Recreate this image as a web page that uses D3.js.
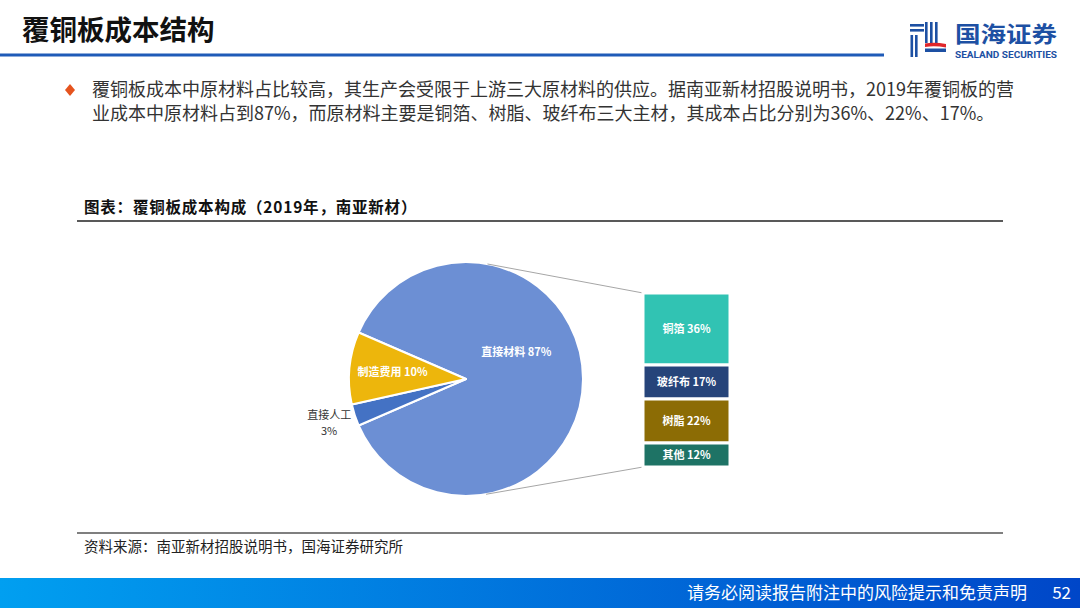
<!DOCTYPE html>
<html>
<head>
<meta charset="utf-8">
<script src="https://cdn.jsdelivr.net/npm/d3@7"></script>
<style>
  body { margin: 0; background: #fff; }
  svg { display: block; font-family: "Noto Sans CJK SC", "Noto Sans", sans-serif; }
</style>
</head>
<body>
<div class="canvas"></div>
<script>
// pie: cost split of CCL (2019)
const pieCats = ['直接材料', '直接人工', '制造费用'];
const pieVals = [87, 3, 10];
const pieColors = ['#6C8FD4', '#4472C4', '#EDB60C'];

// bar-of-pie: breakdown of 直接材料
const barCats = ['铜箔', '玻纤布', '树脂', '其他'];
const barVals = [36, 17, 22, 12];
const barColors = ['#31C3B3', '#26447A', '#8C6C05', '#1E7365'];

const dims = { width: 1080, height: 608 };
const cent = { x: 466, y: 379 };
const radius = 117;
const box = { x: 643, w: 87, top: 293, bottom: 467 };

const svg = d3.select('.canvas')
  .append('svg')
  .attr('width', dims.width)
  .attr('height', dims.height);

// ---- header ----
svg.append('text')
  .attr('x', 22).attr('y', 40)
  .attr('font-size', 27.5).attr('font-weight', 'bold').attr('fill', '#111')
  .text('覆铜板成本结构');

svg.append('rect')
  .attr('x', 0).attr('y', 53.5).attr('width', 884).attr('height', 3)
  .attr('fill', '#1F5BB8');

// logo
const logo = svg.append('g').attr('transform', 'translate(910, 20)');
const blue = '#1D50A3';
[[0, 4, 14, 2.6], [0, 9, 14, 2.6], [0.5, 15, 2.6, 22], [5, 15, 2.6, 22],
 [15, 2, 2.6, 21], [20, 2, 2.6, 21], [25, 2, 2.6, 21], [15, 28.5, 21, 3.5]]
  .forEach(r => logo.append('rect')
    .attr('x', r[0]).attr('y', r[1]).attr('width', r[2]).attr('height', r[3])
    .attr('fill', blue));
logo.append('path')
  .attr('d', 'M15,23.5 Q25,22 36,24 L36,27.5 Q25,25.5 15,27 Z')
  .attr('fill', '#E0262A');
logo.append('text')
  .attr('x', 45).attr('y', 22)
  .attr('font-size', 22).attr('font-weight', 'bold').attr('fill', blue)
  .attr('textLength', 102).attr('lengthAdjust', 'spacingAndGlyphs')
  .text('国海证券');
logo.append('text')
  .attr('x', 45).attr('y', 37.5)
  .attr('font-size', 9).attr('font-weight', 'bold').attr('fill', blue)
  .attr('font-family', 'Roboto, sans-serif')
  .attr('textLength', 102).attr('lengthAdjust', 'spacingAndGlyphs')
  .text('SEALAND SECURITIES');

// bullet paragraph
svg.append('path')
  .attr('d', 'M70,84 L75,90 L70,96 L65,90 Z')
  .attr('fill', '#E5531E');

const para = [
  '覆铜板成本中原材料占比较高，其生产会受限于上游三大原材料的供应。据南亚新材招股说明书，2019年覆铜板的营',
  '业成本中原材料占到87%，而原材料主要是铜箔、树脂、玻纤布三大主材，其成本占比分别为36%、22%、17%。'
];
svg.append('g').selectAll('text')
  .data(para)
  .enter().append('text')
    .attr('x', 92)
    .attr('y', (d, i) => 96 + i * 24)
    .attr('font-size', 18).attr('fill', '#333')
    .text(d => d);

// chart frame
svg.append('text')
  .attr('x', 84).attr('y', 213)
  .attr('font-size', 15.5).attr('font-weight', 'bold').attr('fill', '#111')
  .attr('letter-spacing', 0.8)
  .text('图表：覆铜板成本构成（2019年，南亚新材）');
svg.append('line')
  .attr('x1', 77).attr('x2', 1003).attr('y1', 221).attr('y2', 221)
  .attr('stroke', '#222').attr('stroke-width', 1.5);
svg.append('line')
  .attr('x1', 77).attr('x2', 1003).attr('y1', 533).attr('y2', 533)
  .attr('stroke', '#555').attr('stroke-width', 1.5);
svg.append('text')
  .attr('x', 84).attr('y', 552)
  .attr('font-size', 14.5).attr('fill', '#222')
  .text('资料来源：南亚新材招股说明书，国海证券研究所');

// ---- pie ----
const smallShare = (d3.sum(pieVals) - pieVals[0]) / d3.sum(pieVals);
const startAngle = -Math.PI / 2 + smallShare * Math.PI;

const pie = d3.pie()
  .sort(null)
  .startAngle(startAngle)
  .endAngle(startAngle + 2 * Math.PI)
  .value(d => d);

const arcPath = d3.arc()
  .outerRadius(radius)
  .innerRadius(0);

const graph = svg.append('g')
  .attr('transform', `translate(${cent.x}, ${cent.y})`);

const arcs = pie(pieVals);

// connector lines (tangent from box corners to the pie)
const tangent = (px, py, side) => {
  const dx = px - cent.x, dy = py - cent.y;
  const d = Math.hypot(dx, dy);
  const th = Math.atan2(dy, dx) + side * Math.acos(radius / d);
  return [cent.x + radius * Math.cos(th), cent.y + radius * Math.sin(th)];
};
const t1 = tangent(box.x, box.top, -1);
const t2 = tangent(box.x, box.bottom, 1);
svg.append('line')
  .attr('x1', t1[0]).attr('y1', t1[1]).attr('x2', box.x).attr('y2', box.top)
  .attr('stroke', '#A6A6A6').attr('stroke-width', 1);
svg.append('line')
  .attr('x1', t2[0]).attr('y1', t2[1]).attr('x2', box.x).attr('y2', box.bottom)
  .attr('stroke', '#A6A6A6').attr('stroke-width', 1);

graph.selectAll('path')
  .data(arcs)
  .enter().append('path')
    .attr('d', arcPath)
    .attr('fill', (d, i) => pieColors[i])
    .attr('stroke', '#fff')
    .attr('stroke-width', 2)
    .attr('stroke-linejoin', 'round');

// pie labels
const mid = d => (d.startAngle + d.endAngle) / 2;
const labelSpots = [
  d => d3.pointRadial(mid(d) - 0.5, radius * 0.49),
  d => d3.pointRadial(mid(d), radius * 1.23),
  d => d3.pointRadial(mid(d), radius * 0.63)
];

arcs.forEach((d, i) => {
  const [lx, ly] = labelSpots[i](d);
  const t = graph.append('text')
    .attr('text-anchor', 'middle')
    .attr('font-size', 11)
    .attr('font-weight', i === 1 ? 'normal' : 'bold')
    .attr('fill', i === 1 ? '#333' : '#fff');
  if (i === 1) {
    t.append('tspan').attr('x', lx).attr('y', ly - 4).text(pieCats[i]);
    t.append('tspan').attr('x', lx).attr('y', ly + 12).text(`${pieVals[i]}%`);
  } else {
    t.attr('x', lx).attr('y', ly + 4).text(`${pieCats[i]} ${pieVals[i]}%`);
  }
});

// ---- stacked box ----
const y = d3.scaleLinear()
  .domain([0, d3.sum(barVals)])
  .range([box.top, box.bottom]);

const cum = d3.cumsum([0, ...barVals]);
const bars = svg.append('g').selectAll('g')
  .data(barVals)
  .enter().append('g');

bars.append('rect')
  .attr('x', box.x)
  .attr('y', (d, i) => y(cum[i]))
  .attr('width', box.w)
  .attr('height', d => y(d) - y(0))
  .attr('fill', (d, i) => barColors[i])
  .attr('stroke', '#fff')
  .attr('stroke-width', 3);

bars.append('text')
  .attr('x', box.x + box.w / 2)
  .attr('y', (d, i) => (y(cum[i]) + y(cum[i + 1])) / 2 + 4)
  .attr('text-anchor', 'middle')
  .attr('font-size', 11).attr('font-weight', 'bold').attr('fill', '#fff')
  .text((d, i) => `${barCats[i]} ${d}%`);

// ---- footer ----
const grad = svg.append('defs').append('linearGradient')
  .attr('id', 'foot').attr('x1', '0%').attr('x2', '100%');
grad.append('stop').attr('offset', '0%').attr('stop-color', '#019FF0');
grad.append('stop').attr('offset', '100%').attr('stop-color', '#0046C8');

svg.append('rect')
  .attr('x', 0).attr('y', 578).attr('width', dims.width).attr('height', 30)
  .attr('fill', 'url(#foot)');
svg.append('text')
  .attr('x', 1027).attr('y', 599)
  .attr('text-anchor', 'end')
  .attr('font-size', 17).attr('fill', '#fff')
  .text('请务必阅读报告附注中的风险提示和免责声明');
svg.append('text')
  .attr('x', 1071).attr('y', 599)
  .attr('text-anchor', 'end')
  .attr('font-size', 17).attr('fill', '#fff')
  .text('52');
</script>
</body>
</html>
